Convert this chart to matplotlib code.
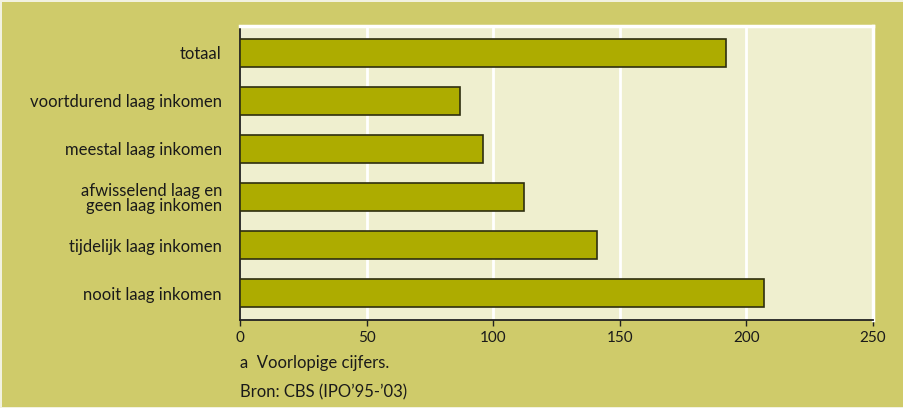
import matplotlib
matplotlib.use("Agg")
import matplotlib.pyplot as plt

categories = ["totaal", "voortdurend laag inkomen", "meestal laag inkomen",
              "afwisselend laag en\ngeen laag inkomen", "tijdelijk laag inkomen",
              "nooit laag inkomen"]
values = [192, 87, 96, 112, 141, 207]
xticks = [0, 50, 100, 150, 200, 250]
footnote = "a  Voorlopige cijfers."
source = "Bron: CBS (IPO\u201995-\u201903)"

plt.rcParams['font.family'] = ['Lato', 'DejaVu Sans']

BG = "#CFCB6A"
AXBG = "#EFEFCF"
BAR = "#ADAC00"
EDGE = "#2E2E10"

W, H = 904, 408
fig = plt.figure(figsize=(W/100, H/100), dpi=100, facecolor=BG)
fig.patch.set_edgecolor("#F2F2E0")
fig.patch.set_linewidth(2)

left, right, top, bottom = 240, 873, 26, 320
ax = fig.add_axes([left/W, 1-bottom/H, (right-left)/W, (bottom-top)/H])
ax.set_facecolor(AXBG)

ypos = list(range(len(categories)))
ax.barh(ypos, values, height=0.57, color=BAR, edgecolor=EDGE, linewidth=1.2, zorder=3)
ax.set_ylim(len(categories)-1+0.56, -0.56)
ax.set_xlim(0, 250)
ax.set_xticks(xticks)
ax.set_xticklabels([str(t) for t in xticks], fontsize=11, color="#1a1a1a")
ax.set_yticks(ypos)
ax.set_yticklabels(categories, fontsize=12, color="#1a1a1a", linespacing=0.95)
ax.tick_params(axis='y', length=0, pad=13)
ax.tick_params(axis='x', length=4, width=1, color="#222222", direction='out', pad=4)
for t in xticks[1:-1]:
    ax.axvline(t, color="white", lw=2, zorder=1)
ax.spines['left'].set_color("#222222")
ax.spines['left'].set_linewidth(1.3)
ax.spines['bottom'].set_color("#222222")
ax.spines['bottom'].set_linewidth(1.3)
ax.spines['top'].set_color("white")
ax.spines['top'].set_linewidth(2.5)
ax.spines['right'].set_color("white")
ax.spines['right'].set_linewidth(2.5)
for lab in ax.get_yticklabels():
    lab.set_horizontalalignment('right')

fig.text(240/W, 1-363/H, footnote, fontsize=12, color="#1a1a1a", va='center', ha='left')
fig.text(240/W, 1-392/H, source, fontsize=12, color="#1a1a1a", va='center', ha='left')

fig.savefig("out.png", dpi=100, facecolor=BG, edgecolor=fig.patch.get_edgecolor())
